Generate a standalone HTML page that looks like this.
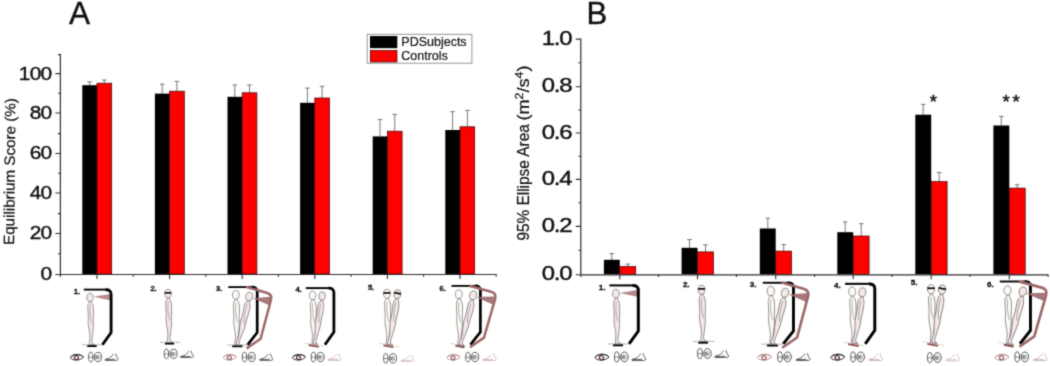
<!DOCTYPE html>
<html lang="en"><head><meta charset="utf-8"><title>Figure</title>
<style>
html,body{margin:0;padding:0;background:#fff;}
body{width:1050px;height:366px;overflow:hidden;font-family:"Liberation Sans", Arial, sans-serif;}
svg{display:block;font-family:"Liberation Sans", Arial, sans-serif;}
</style></head><body>
<svg width="1050" height="366" viewBox="0 0 1050 366">
<defs><filter id="soft" x="0" y="0" width="1050" height="366" filterUnits="userSpaceOnUse" color-interpolation-filters="sRGB"><feConvolveMatrix order="3" kernelMatrix="0.0256 0.1088 0.0256 0.1088 0.4624 0.1088 0.0256 0.1088 0.0256" divisor="1" edgeMode="duplicate" preserveAlpha="true"/></filter></defs>
<g filter="url(#soft)">
<rect width="1050" height="366" fill="#fff"/>
<path d="M89.7 85.2V81.9M87.4 81.9H92.0" stroke="#6a6a6a" stroke-width="0.9" fill="none"/>
<path d="M104.3 83.2V80.0M102.0 80.0H106.6" stroke="#6a6a6a" stroke-width="0.9" fill="none"/>
<rect x="82.3" y="85.2" width="14.7" height="188.8" fill="#000"/>
<rect x="97.0" y="83.2" width="14.7" height="190.8" fill="#ff0000" stroke="#3a0000" stroke-width="0.7"/>
<path d="M162.2 93.6V84.2M159.9 84.2H164.6" stroke="#6a6a6a" stroke-width="0.9" fill="none"/>
<path d="M176.9 91.2V81.4M174.6 81.4H179.2" stroke="#6a6a6a" stroke-width="0.9" fill="none"/>
<rect x="154.9" y="93.6" width="14.7" height="180.4" fill="#000"/>
<rect x="169.6" y="91.2" width="14.7" height="182.8" fill="#ff0000" stroke="#3a0000" stroke-width="0.7"/>
<path d="M234.8 96.8V85.0M232.5 85.0H237.2" stroke="#6a6a6a" stroke-width="0.9" fill="none"/>
<path d="M249.5 92.8V85.0M247.2 85.0H251.8" stroke="#6a6a6a" stroke-width="0.9" fill="none"/>
<rect x="227.5" y="96.8" width="14.7" height="177.2" fill="#000"/>
<rect x="242.2" y="92.8" width="14.7" height="181.2" fill="#ff0000" stroke="#3a0000" stroke-width="0.7"/>
<path d="M307.4 102.8V88.1M305.1 88.1H309.7" stroke="#6a6a6a" stroke-width="0.9" fill="none"/>
<path d="M322.1 98.0V86.3M319.8 86.3H324.4" stroke="#6a6a6a" stroke-width="0.9" fill="none"/>
<rect x="300.1" y="102.8" width="14.7" height="171.2" fill="#000"/>
<rect x="314.8" y="98.0" width="14.7" height="176.0" fill="#ff0000" stroke="#3a0000" stroke-width="0.7"/>
<path d="M380.0 136.4V119.5M377.7 119.5H382.3" stroke="#6a6a6a" stroke-width="0.9" fill="none"/>
<path d="M394.8 131.2V114.4M392.4 114.4H397.1" stroke="#6a6a6a" stroke-width="0.9" fill="none"/>
<rect x="372.7" y="136.4" width="14.7" height="137.6" fill="#000"/>
<rect x="387.4" y="131.2" width="14.7" height="142.8" fill="#ff0000" stroke="#3a0000" stroke-width="0.7"/>
<path d="M452.6 130.0V111.7M450.3 111.7H454.9" stroke="#6a6a6a" stroke-width="0.9" fill="none"/>
<path d="M467.4 126.8V110.4M465.1 110.4H469.7" stroke="#6a6a6a" stroke-width="0.9" fill="none"/>
<rect x="445.3" y="130.0" width="14.7" height="144.0" fill="#000"/>
<rect x="460.0" y="126.8" width="14.7" height="147.2" fill="#ff0000" stroke="#3a0000" stroke-width="0.7"/>
<path d="M60.4 54.1V276.8M60.4 274.5H496.5" stroke="#303030" stroke-width="1.2" fill="none"/>
<path d="M55.4 274.5H60.4M55.4 233.5H60.4M55.4 193.0H60.4M55.4 153.5H60.4M55.4 113.0H60.4M55.4 73.6H60.4M58.0 253.8H60.4M58.0 213.6H60.4M58.0 173.2H60.4M58.0 133.6H60.4M58.0 93.2H60.4M58.0 54.6H60.4M97.0 274.5v4.4M133.2 274.5v2.2M169.6 274.5v4.4M205.8 274.5v2.2M242.2 274.5v4.4M278.4 274.5v2.2M314.8 274.5v4.4M351.0 274.5v2.2M387.4 274.5v4.4M423.6 274.5v2.2M460.0 274.5v4.4M496.2 274.5v2.2" stroke="#303030" stroke-width="1.1" fill="none"/>
<text transform="translate(51.5 279.9) scale(1.1 1)" text-anchor="end" font-size="19.0" letter-spacing="-0.65" fill="#111" stroke="#111" stroke-width="0.4">0</text>
<text transform="translate(51.5 239.4) scale(1.1 1)" text-anchor="end" font-size="19.0" letter-spacing="-0.65" fill="#111" stroke="#111" stroke-width="0.4">20</text>
<text transform="translate(51.5 198.9) scale(1.1 1)" text-anchor="end" font-size="19.0" letter-spacing="-0.65" fill="#111" stroke="#111" stroke-width="0.4">40</text>
<text transform="translate(51.5 159.4) scale(1.1 1)" text-anchor="end" font-size="19.0" letter-spacing="-0.65" fill="#111" stroke="#111" stroke-width="0.4">60</text>
<text transform="translate(51.5 118.9) scale(1.1 1)" text-anchor="end" font-size="19.0" letter-spacing="-0.65" fill="#111" stroke="#111" stroke-width="0.4">80</text>
<text transform="translate(51.5 79.5) scale(1.1 1)" text-anchor="end" font-size="19.0" letter-spacing="-0.65" fill="#111" stroke="#111" stroke-width="0.4">100</text>
<text x="69.0" y="24.4" font-size="31.6" fill="#111" stroke="#111" stroke-width="0.4">A</text>
<text transform="translate(14.1 245.0) rotate(-89.45)" font-size="14.9" textLength="146.8" lengthAdjust="spacingAndGlyphs" fill="#111" stroke="#111" stroke-width="0.22">Equilibrium Score (%)</text>
<rect x="367.2" y="34.3" width="104.7" height="28.9" fill="#fff" stroke="#8a8a8a" stroke-width="0.9"/>
<rect x="370" y="36" width="27.3" height="12.2" fill="#000"/>
<rect x="370.3" y="50.4" width="26.7" height="11.6" fill="#ff0000" stroke="#3a0000" stroke-width="0.7"/>
<text x="401.3" y="45.7" font-size="12.5" fill="#111" stroke="#111" stroke-width="0.2">PDSubjects</text>
<text x="401.3" y="59.8" font-size="12.5" fill="#111" stroke="#111" stroke-width="0.2">Controls</text>
<path d="M611.8 259.8V253.6M609.5 253.6H614.1" stroke="#6a6a6a" stroke-width="0.9" fill="none"/>
<path d="M627.8 266.6V264.1M625.5 264.1H630.0" stroke="#6a6a6a" stroke-width="0.9" fill="none"/>
<rect x="603.9" y="259.8" width="15.9" height="14.5" fill="#000"/>
<rect x="619.8" y="266.6" width="15.9" height="7.7" fill="#ff0000" stroke="#3a0000" stroke-width="0.7"/>
<path d="M689.5 247.8V239.5M687.2 239.5H691.8" stroke="#6a6a6a" stroke-width="0.9" fill="none"/>
<path d="M705.5 251.9V244.8M703.2 244.8H707.8" stroke="#6a6a6a" stroke-width="0.9" fill="none"/>
<rect x="681.6" y="247.8" width="15.9" height="26.5" fill="#000"/>
<rect x="697.5" y="251.9" width="15.9" height="22.4" fill="#ff0000" stroke="#3a0000" stroke-width="0.7"/>
<path d="M767.8 228.5V218.2M765.5 218.2H770.0" stroke="#6a6a6a" stroke-width="0.9" fill="none"/>
<path d="M783.7 251.1V244.6M781.4 244.6H786.0" stroke="#6a6a6a" stroke-width="0.9" fill="none"/>
<rect x="759.8" y="228.5" width="15.9" height="45.8" fill="#000"/>
<rect x="775.7" y="251.1" width="15.9" height="23.2" fill="#ff0000" stroke="#3a0000" stroke-width="0.7"/>
<path d="M845.2 232.2V221.9M843.0 221.9H847.5" stroke="#6a6a6a" stroke-width="0.9" fill="none"/>
<path d="M861.2 236.0V223.7M858.9 223.7H863.5" stroke="#6a6a6a" stroke-width="0.9" fill="none"/>
<rect x="837.3" y="232.2" width="15.9" height="42.1" fill="#000"/>
<rect x="853.2" y="236.0" width="15.9" height="38.3" fill="#ff0000" stroke="#3a0000" stroke-width="0.7"/>
<path d="M923.2 114.7V104.4M921.0 104.4H925.5" stroke="#6a6a6a" stroke-width="0.9" fill="none"/>
<path d="M939.2 181.6V172.5M936.9 172.5H941.5" stroke="#6a6a6a" stroke-width="0.9" fill="none"/>
<rect x="915.3" y="114.7" width="15.9" height="159.6" fill="#000"/>
<rect x="931.2" y="181.6" width="15.9" height="92.7" fill="#ff0000" stroke="#3a0000" stroke-width="0.7"/>
<path d="M1001.3 125.5V116.4M999.0 116.4H1003.6" stroke="#6a6a6a" stroke-width="0.9" fill="none"/>
<path d="M1017.2 188.1V184.7M1015.0 184.7H1019.5" stroke="#6a6a6a" stroke-width="0.9" fill="none"/>
<rect x="993.4" y="125.5" width="15.9" height="148.8" fill="#000"/>
<rect x="1009.3" y="188.1" width="15.9" height="86.2" fill="#ff0000" stroke="#3a0000" stroke-width="0.7"/>
<path d="M580.8 38.6V277.1M580.8 274.8H1048.3" stroke="#303030" stroke-width="1.2" fill="none"/>
<path d="M575.8 274.8H580.8M575.8 226.4H580.8M575.8 179.4H580.8M575.8 133.0H580.8M575.8 86.7H580.8M575.8 39.1H580.8M578.4 250.2H580.8M578.4 202.8H580.8M578.4 156.3H580.8M578.4 110.0H580.8M578.4 62.8H580.8M619.8 274.8v4.4M658.6 274.8v2.2M697.5 274.8v4.4M736.4 274.8v2.2M775.7 274.8v4.4M814.6 274.8v2.2M853.2 274.8v4.4M892.1 274.8v2.2M931.2 274.8v4.4M970.1 274.8v2.2M1009.3 274.8v4.4M1048.1 274.8v2.2" stroke="#303030" stroke-width="1.1" fill="none"/>
<text transform="translate(571.4 280.0) scale(1.22 1)" text-anchor="end" font-size="19.6" letter-spacing="-0.95" fill="#111" stroke="#111" stroke-width="0.4">0.0</text>
<text transform="translate(571.4 232.1) scale(1.22 1)" text-anchor="end" font-size="19.6" letter-spacing="-0.95" fill="#111" stroke="#111" stroke-width="0.4">0.2</text>
<text transform="translate(571.4 185.1) scale(1.22 1)" text-anchor="end" font-size="19.6" letter-spacing="-0.95" fill="#111" stroke="#111" stroke-width="0.4">0.4</text>
<text transform="translate(571.4 138.7) scale(1.22 1)" text-anchor="end" font-size="19.6" letter-spacing="-0.95" fill="#111" stroke="#111" stroke-width="0.4">0.6</text>
<text transform="translate(571.4 92.4) scale(1.22 1)" text-anchor="end" font-size="19.6" letter-spacing="-0.95" fill="#111" stroke="#111" stroke-width="0.4">0.8</text>
<text transform="translate(571.4 44.8) scale(1.22 1)" text-anchor="end" font-size="19.6" letter-spacing="-0.95" fill="#111" stroke="#111" stroke-width="0.4">1.0</text>
<text x="586.4" y="23.9" font-size="31" fill="#111" stroke="#111" stroke-width="0.4">B</text>
<text transform="translate(528.6 240.6) rotate(-90)" font-size="16.4" textLength="116.4" lengthAdjust="spacingAndGlyphs" fill="#111" stroke="#111" stroke-width="0.22">95% Ellipse Area</text>
<text transform="translate(528.6 120.6) rotate(-90)" font-size="16.4" textLength="55.2" lengthAdjust="spacingAndGlyphs" fill="#111" stroke="#111" stroke-width="0.22">(m<tspan font-size="11.3" dy="-6">2</tspan><tspan dy="6">/s</tspan><tspan font-size="11.3" dy="-6">4</tspan><tspan dy="6">)</tspan></text>
<text x="933.3" y="107.6" font-size="18.5" text-anchor="middle" fill="#111" stroke="#111" stroke-width="0.5">*</text>
<text x="1012.4" y="107.6" font-size="18.5" text-anchor="middle" fill="#111" stroke="#111" stroke-width="0.5" letter-spacing="2.6">**</text>
<defs><g id="f1">
<text x="73.8" y="293.6" font-size="7.6" font-weight="bold" fill="#111" stroke="#111" stroke-width="0.3">1.</text>
<path d="M93.5 296.8L110.0 294.0L110.0 300.2Z" fill="#b07c7c" opacity="0.9"/>
<path d="M83.8 289.6H106.6" fill="none" stroke="#000" stroke-width="1.9"/>
<path d="M105.6 289.8Q111.1 289.4 111.1 294.4V332.6L102.4 344.8" fill="none" stroke="#000" stroke-width="2.8" stroke-linejoin="miter"/>
<g><path d="M82.0 344.8H102.0" stroke="#888" stroke-width="0.6"/><path d="M87.2 346.1H96.7" stroke="#000" stroke-width="1.8"/></g>
<g transform="translate(91.0 344.6) rotate(0.0) scale(1.000)" fill="#f4e9e7" stroke="#5c5555" stroke-width="0.55" stroke-linejoin="round">
<path transform="scale(1.1 1)" d="M-1.5 -43.6L-1.5 -41.9C-2.6 -41.3 -3.0 -40 -2.9 -37C-2.8 -33 -2.4 -29 -2.4 -26C-2.4 -24 -2.8 -22.5 -2.6 -20.5C-2.2 -17 -1.4 -13 -1.0 -9.5C-0.8 -7 -1.2 -5 -1.4 -2.5C-1.5 -1 -1.6 -0.4 -1.2 0L3.0 0C3.1 -0.6 1.9 -1 1.1 -1.7C0.7 -2.2 0.8 -3.5 1.0 -6C1.3 -9.5 1.9 -13 2.2 -17C2.4 -20 2.0 -22 2.1 -25C2.2 -28.5 2.5 -32 2.3 -35.5C2.2 -38.5 1.6 -40.7 0.5 -41.9L0.5 -43.6Z"/>
<path d="M-0.9 -39.8C-1.2 -35 -1.1 -30 -0.4 -26.5C0 -24.5 0.4 -22.5 0.8 -21" fill="none" stroke-width="0.4"/>
<ellipse cx="-1.0" cy="-47.2" rx="3.2" ry="4.1"/>
</g>
<g transform="translate(76.8 357.4)" fill="none" stroke="#222" stroke-width="0.9"><path d="M-6.7 0.3C-4 -3.5 3.4 -3.9 6.7 -0.3C3.4 3.5 -4 3.6 -6.7 0.3Z"/><path d="M-6.3 -0.3C-3.6 -3.6 3.2 -3.9 6.4 -0.6" stroke-width="0.9"/><circle cx="-0.4" cy="0.3" r="2.0" stroke="#552a2a" stroke-width="1.2" fill="#fbf3f3"/></g>
<g transform="translate(95.0 357.0)" fill="none" stroke="#262626" stroke-width="0.72"><ellipse cx="-4.2" cy="0" rx="2.2" ry="4.8"/><ellipse cx="3.0" cy="0" rx="3.5" ry="4.6"/><ellipse cx="2.9" cy="0.2" rx="1.6" ry="1.9" stroke-width="0.5"/><path d="M-6.2 0.2H-1.2M-0.8 -1.5L3.4 0.2L-0.8 1.8" stroke-width="0.5"/></g>
<path transform="translate(105.0 357.5)" d="M0.2 2C2.2 1.4 4.6 0.7 6.2 -0.7C7 -1.5 7.7 -2.4 8.3 -3.2M10.8 -3.5C10.9 -1.8 11.7 -0.5 12.8 0.8C13.5 1.7 12.9 2.8 11.6 2.8L0.7 3C-0.1 2.9 -0.3 2.3 0.2 2M1.6 1.9C4 2.2 7 2.1 9.4 1.7" fill="none" stroke="#333" stroke-width="0.75" stroke-linecap="round" stroke-linejoin="round"/>
</g>
<g id="f2">
<text x="150.4" y="290.9" font-size="7.6" font-weight="bold" fill="#111" stroke="#111" stroke-width="0.3">2.</text>
<g><path d="M160.0 342.3H180.4" stroke="#888" stroke-width="0.6"/><path d="M164.9 343.6H174.1" stroke="#000" stroke-width="1.8"/></g>
<g transform="translate(169.0 342.3) rotate(0.0) scale(1.030)" fill="#f4e9e7" stroke="#5c5555" stroke-width="0.55" stroke-linejoin="round">
<path transform="scale(1.1 1)" d="M-1.5 -43.6L-1.5 -41.9C-2.6 -41.3 -3.0 -40 -2.9 -37C-2.8 -33 -2.4 -29 -2.4 -26C-2.4 -24 -2.8 -22.5 -2.6 -20.5C-2.2 -17 -1.4 -13 -1.0 -9.5C-0.8 -7 -1.2 -5 -1.4 -2.5C-1.5 -1 -1.6 -0.4 -1.2 0L3.0 0C3.1 -0.6 1.9 -1 1.1 -1.7C0.7 -2.2 0.8 -3.5 1.0 -6C1.3 -9.5 1.9 -13 2.2 -17C2.4 -20 2.0 -22 2.1 -25C2.2 -28.5 2.5 -32 2.3 -35.5C2.2 -38.5 1.6 -40.7 0.5 -41.9L0.5 -43.6Z"/>
<path d="M-0.9 -39.8C-1.2 -35 -1.1 -30 -0.4 -26.5C0 -24.5 0.4 -22.5 0.8 -21" fill="none" stroke-width="0.4"/>
<ellipse cx="-1.0" cy="-47.2" rx="3.2" ry="4.1"/>
<path d="M-4.3 -48.0H2.2" stroke="#111" stroke-width="1.6" fill="none"/>
</g>
<g transform="translate(170.6 353.8)" fill="none" stroke="#262626" stroke-width="0.72"><ellipse cx="-4.2" cy="0" rx="2.2" ry="4.8"/><ellipse cx="3.0" cy="0" rx="3.5" ry="4.6"/><ellipse cx="2.9" cy="0.2" rx="1.6" ry="1.9" stroke-width="0.5"/><path d="M-6.2 0.2H-1.2M-0.8 -1.5L3.4 0.2L-0.8 1.8" stroke-width="0.5"/></g>
<path transform="translate(180.4 354.6)" d="M0.2 2C2.2 1.4 4.6 0.7 6.2 -0.7C7 -1.5 7.7 -2.4 8.3 -3.2M10.8 -3.5C10.9 -1.8 11.7 -0.5 12.8 0.8C13.5 1.7 12.9 2.8 11.6 2.8L0.7 3C-0.1 2.9 -0.3 2.3 0.2 2M1.6 1.9C4 2.2 7 2.1 9.4 1.7" fill="none" stroke="#333" stroke-width="0.75" stroke-linecap="round" stroke-linejoin="round"/>
</g>
<g id="f3">
<text x="216.0" y="291.0" font-size="7.6" font-weight="bold" fill="#111" stroke="#111" stroke-width="0.3">3.</text>
<path d="M228.3 287.1H252.7" fill="none" stroke="#000" stroke-width="1.8"/>
<path d="M251.7 287.2Q257.2 286.9 257.2 291.9V332.5L247.6 344.8" fill="none" stroke="#000" stroke-width="2.7" stroke-linejoin="miter"/>
<path d="M252.7 298.2L271.0 296.8L269.3 305.2Z" fill="#9e6868" opacity="0.9"/>
<path d="M245.9 286.9L266.6 292.8Q272.4 294.4 270.9 300.2L260.6 338.7L246.6 348.4" fill="none" stroke="#9e6868" stroke-width="2.5" stroke-linejoin="round"/>
<g><path d="M227.0 345.0H247.0" stroke="#888" stroke-width="0.6"/><path d="M232.2 346.3H242.5" stroke="#000" stroke-width="1.8"/></g>
<g transform="translate(236.6 344.7) rotate(0.3) scale(1.055)" fill="#fcfaf4" stroke="#5c5555" stroke-width="0.55" stroke-linejoin="round">
<path transform="scale(1.1 1)" d="M-1.5 -43.6L-1.5 -41.9C-2.6 -41.3 -3.0 -40 -2.9 -37C-2.8 -33 -2.4 -29 -2.4 -26C-2.4 -24 -2.8 -22.5 -2.6 -20.5C-2.2 -17 -1.4 -13 -1.0 -9.5C-0.8 -7 -1.2 -5 -1.4 -2.5C-1.5 -1 -1.6 -0.4 -1.2 0L3.0 0C3.1 -0.6 1.9 -1 1.1 -1.7C0.7 -2.2 0.8 -3.5 1.0 -6C1.3 -9.5 1.9 -13 2.2 -17C2.4 -20 2.0 -22 2.1 -25C2.2 -28.5 2.5 -32 2.3 -35.5C2.2 -38.5 1.6 -40.7 0.5 -41.9L0.5 -43.6Z"/>
<path d="M-0.9 -39.8C-1.2 -35 -1.1 -30 -0.4 -26.5C0 -24.5 0.4 -22.5 0.8 -21" fill="none" stroke-width="0.4"/>
<ellipse cx="-1.0" cy="-47.2" rx="3.2" ry="4.1"/>
</g>
<g transform="translate(237.4 344.7) rotate(15.0) scale(1.050)" fill="#f4e9e7" stroke="#5c5555" stroke-width="0.55" stroke-linejoin="round">
<path transform="scale(1.1 1)" d="M-1.5 -43.6L-1.5 -41.9C-2.6 -41.3 -3.0 -40 -2.9 -37C-2.8 -33 -2.4 -29 -2.4 -26C-2.4 -24 -2.8 -22.5 -2.6 -20.5C-2.2 -17 -1.4 -13 -1.0 -9.5C-0.8 -7 -1.2 -5 -1.4 -2.5C-1.5 -1 -1.6 -0.4 -1.2 0L3.0 0C3.1 -0.6 1.9 -1 1.1 -1.7C0.7 -2.2 0.8 -3.5 1.0 -6C1.3 -9.5 1.9 -13 2.2 -17C2.4 -20 2.0 -22 2.1 -25C2.2 -28.5 2.5 -32 2.3 -35.5C2.2 -38.5 1.6 -40.7 0.5 -41.9L0.5 -43.6Z"/>
<path d="M-0.9 -39.8C-1.2 -35 -1.1 -30 -0.4 -26.5C0 -24.5 0.4 -22.5 0.8 -21" fill="none" stroke-width="0.4"/>
<ellipse cx="-1.0" cy="-47.2" rx="3.2" ry="4.1"/>
</g>
<g transform="translate(229.8 357.4)" fill="none" stroke="#b98f8f" stroke-width="0.9"><path d="M-6.7 0.3C-4 -3.5 3.4 -3.9 6.7 -0.3C3.4 3.5 -4 3.6 -6.7 0.3Z"/><path d="M-6.3 -0.3C-3.6 -3.6 3.2 -3.9 6.4 -0.6" stroke-width="0.9"/><circle cx="-0.4" cy="0.3" r="2.0" stroke="#9a6262" stroke-width="1.2" fill="#fbf3f3"/></g>
<g transform="translate(248.7 357.0)" fill="none" stroke="#262626" stroke-width="0.72"><ellipse cx="-4.2" cy="0" rx="2.2" ry="4.8"/><ellipse cx="3.0" cy="0" rx="3.5" ry="4.6"/><ellipse cx="2.9" cy="0.2" rx="1.6" ry="1.9" stroke-width="0.5"/><path d="M-6.2 0.2H-1.2M-0.8 -1.5L3.4 0.2L-0.8 1.8" stroke-width="0.5"/></g>
<path transform="translate(259.7 357.5)" d="M0.2 2C2.2 1.4 4.6 0.7 6.2 -0.7C7 -1.5 7.7 -2.4 8.3 -3.2M10.8 -3.5C10.9 -1.8 11.7 -0.5 12.8 0.8C13.5 1.7 12.9 2.8 11.6 2.8L0.7 3C-0.1 2.9 -0.3 2.3 0.2 2M1.6 1.9C4 2.2 7 2.1 9.4 1.7" fill="none" stroke="#333" stroke-width="0.75" stroke-linecap="round" stroke-linejoin="round"/>
</g>
<g id="f4">
<text x="295.4" y="292.1" font-size="7.6" font-weight="bold" fill="#111" stroke="#111" stroke-width="0.3">4.</text>
<path d="M305.8 288.1H329.4" fill="none" stroke="#000" stroke-width="1.9"/>
<path d="M328.4 288.2Q333.9 287.9 333.9 292.9V332.0L324.9 344.8" fill="none" stroke="#000" stroke-width="2.8" stroke-linejoin="miter"/>
<g transform="rotate(10.0 313.9 344.6)"><path d="M304.5 344.6H323.5" stroke="#d9b9b9" stroke-width="0.6"/><path d="M308.8 345.9H319.0" stroke="#8e5050" stroke-width="1.8"/></g>
<g transform="translate(313.6 343.8) rotate(0.0) scale(1.025)" fill="#fcfaf4" stroke="#5c5555" stroke-width="0.55" stroke-linejoin="round">
<path transform="scale(1.1 1)" d="M-1.5 -43.6L-1.5 -41.9C-2.6 -41.3 -3.0 -40 -2.9 -37C-2.8 -33 -2.4 -29 -2.4 -26C-2.4 -24 -2.8 -22.5 -2.6 -20.5C-2.2 -17 -1.4 -13 -1.0 -9.5C-0.8 -7 -1.2 -5 -1.4 -2.5C-1.5 -1 -1.6 -0.4 -1.2 0L3.0 0C3.1 -0.6 1.9 -1 1.1 -1.7C0.7 -2.2 0.8 -3.5 1.0 -6C1.3 -9.5 1.9 -13 2.2 -17C2.4 -20 2.0 -22 2.1 -25C2.2 -28.5 2.5 -32 2.3 -35.5C2.2 -38.5 1.6 -40.7 0.5 -41.9L0.5 -43.6Z"/>
<path d="M-0.9 -39.8C-1.2 -35 -1.1 -30 -0.4 -26.5C0 -24.5 0.4 -22.5 0.8 -21" fill="none" stroke-width="0.4"/>
<ellipse cx="-1.0" cy="-47.2" rx="3.2" ry="4.1"/>
</g>
<g transform="translate(314.4 343.9) rotate(10.4) scale(1.027)" fill="#f4e9e7" stroke="#5c5555" stroke-width="0.55" stroke-linejoin="round">
<path transform="scale(1.1 1)" d="M-1.5 -43.6L-1.5 -41.9C-2.6 -41.3 -3.0 -40 -2.9 -37C-2.8 -33 -2.4 -29 -2.4 -26C-2.4 -24 -2.8 -22.5 -2.6 -20.5C-2.2 -17 -1.4 -13 -1.0 -9.5C-0.8 -7 -1.2 -5 -1.4 -2.5C-1.5 -1 -1.6 -0.4 -1.2 0L3.0 0C3.1 -0.6 1.9 -1 1.1 -1.7C0.7 -2.2 0.8 -3.5 1.0 -6C1.3 -9.5 1.9 -13 2.2 -17C2.4 -20 2.0 -22 2.1 -25C2.2 -28.5 2.5 -32 2.3 -35.5C2.2 -38.5 1.6 -40.7 0.5 -41.9L0.5 -43.6Z"/>
<path d="M-0.9 -39.8C-1.2 -35 -1.1 -30 -0.4 -26.5C0 -24.5 0.4 -22.5 0.8 -21" fill="none" stroke-width="0.4"/>
<ellipse cx="-1.0" cy="-47.2" rx="3.2" ry="4.1"/>
</g>
<g transform="translate(298.9 357.4)" fill="none" stroke="#222" stroke-width="0.9"><path d="M-6.7 0.3C-4 -3.5 3.4 -3.9 6.7 -0.3C3.4 3.5 -4 3.6 -6.7 0.3Z"/><path d="M-6.3 -0.3C-3.6 -3.6 3.2 -3.9 6.4 -0.6" stroke-width="0.9"/><circle cx="-0.4" cy="0.3" r="2.0" stroke="#552a2a" stroke-width="1.2" fill="#fbf3f3"/></g>
<g transform="translate(317.6 357.0)" fill="none" stroke="#262626" stroke-width="0.72"><ellipse cx="-4.2" cy="0" rx="2.2" ry="4.8"/><ellipse cx="3.0" cy="0" rx="3.5" ry="4.6"/><ellipse cx="2.9" cy="0.2" rx="1.6" ry="1.9" stroke-width="0.5"/><path d="M-6.2 0.2H-1.2M-0.8 -1.5L3.4 0.2L-0.8 1.8" stroke-width="0.5"/></g>
<path transform="translate(328.2 357.5)" d="M0.2 2C2.2 1.4 4.6 0.7 6.2 -0.7C7 -1.5 7.7 -2.4 8.3 -3.2M10.8 -3.5C10.9 -1.8 11.7 -0.5 12.8 0.8C13.5 1.7 12.9 2.8 11.6 2.8L0.7 3C-0.1 2.9 -0.3 2.3 0.2 2M1.6 1.9C4 2.2 7 2.1 9.4 1.7" fill="none" stroke="#c9a9a6" stroke-width="0.75" stroke-linecap="round" stroke-linejoin="round"/>
</g>
<g id="f5">
<text x="367.9" y="290.2" font-size="7.6" font-weight="bold" fill="#111" stroke="#111" stroke-width="0.3">5.</text>
<g transform="rotate(10.5 388.7 345.0)"><path d="M379.0 345.0H399.5" stroke="#d9b9b9" stroke-width="0.6"/><path d="M383.6 346.3H393.8" stroke="#8e5050" stroke-width="1.8"/></g>
<g transform="translate(388.0 344.3) rotate(0.0) scale(1.070)" fill="#fcfaf4" stroke="#5c5555" stroke-width="0.55" stroke-linejoin="round">
<path transform="scale(1.1 1)" d="M-1.5 -43.6L-1.5 -41.9C-2.6 -41.3 -3.0 -40 -2.9 -37C-2.8 -33 -2.4 -29 -2.4 -26C-2.4 -24 -2.8 -22.5 -2.6 -20.5C-2.2 -17 -1.4 -13 -1.0 -9.5C-0.8 -7 -1.2 -5 -1.4 -2.5C-1.5 -1 -1.6 -0.4 -1.2 0L3.0 0C3.1 -0.6 1.9 -1 1.1 -1.7C0.7 -2.2 0.8 -3.5 1.0 -6C1.3 -9.5 1.9 -13 2.2 -17C2.4 -20 2.0 -22 2.1 -25C2.2 -28.5 2.5 -32 2.3 -35.5C2.2 -38.5 1.6 -40.7 0.5 -41.9L0.5 -43.6Z"/>
<path d="M-0.9 -39.8C-1.2 -35 -1.1 -30 -0.4 -26.5C0 -24.5 0.4 -22.5 0.8 -21" fill="none" stroke-width="0.4"/>
<ellipse cx="-1.0" cy="-47.2" rx="3.2" ry="4.1"/>
<path d="M-4.3 -48.0H2.2" stroke="#111" stroke-width="1.6" fill="none"/>
</g>
<g transform="translate(388.9 344.4) rotate(10.8) scale(1.080)" fill="#f4e9e7" stroke="#5c5555" stroke-width="0.55" stroke-linejoin="round">
<path transform="scale(1.1 1)" d="M-1.5 -43.6L-1.5 -41.9C-2.6 -41.3 -3.0 -40 -2.9 -37C-2.8 -33 -2.4 -29 -2.4 -26C-2.4 -24 -2.8 -22.5 -2.6 -20.5C-2.2 -17 -1.4 -13 -1.0 -9.5C-0.8 -7 -1.2 -5 -1.4 -2.5C-1.5 -1 -1.6 -0.4 -1.2 0L3.0 0C3.1 -0.6 1.9 -1 1.1 -1.7C0.7 -2.2 0.8 -3.5 1.0 -6C1.3 -9.5 1.9 -13 2.2 -17C2.4 -20 2.0 -22 2.1 -25C2.2 -28.5 2.5 -32 2.3 -35.5C2.2 -38.5 1.6 -40.7 0.5 -41.9L0.5 -43.6Z"/>
<path d="M-0.9 -39.8C-1.2 -35 -1.1 -30 -0.4 -26.5C0 -24.5 0.4 -22.5 0.8 -21" fill="none" stroke-width="0.4"/>
<ellipse cx="-1.0" cy="-47.2" rx="3.2" ry="4.1"/>
<path d="M-4.3 -48.0H2.2" stroke="#111" stroke-width="1.6" fill="none"/>
</g>
<g transform="translate(390.0 358.3)" fill="none" stroke="#262626" stroke-width="0.72"><ellipse cx="-4.2" cy="0" rx="2.2" ry="4.8"/><ellipse cx="3.0" cy="0" rx="3.5" ry="4.6"/><ellipse cx="2.9" cy="0.2" rx="1.6" ry="1.9" stroke-width="0.5"/><path d="M-6.2 0.2H-1.2M-0.8 -1.5L3.4 0.2L-0.8 1.8" stroke-width="0.5"/></g>
<path transform="translate(400.8 358.6)" d="M0.2 2C2.2 1.4 4.6 0.7 6.2 -0.7C7 -1.5 7.7 -2.4 8.3 -3.2M10.8 -3.5C10.9 -1.8 11.7 -0.5 12.8 0.8C13.5 1.7 12.9 2.8 11.6 2.8L0.7 3C-0.1 2.9 -0.3 2.3 0.2 2M1.6 1.9C4 2.2 7 2.1 9.4 1.7" fill="none" stroke="#cdb5b3" stroke-width="0.75" stroke-linecap="round" stroke-linejoin="round"/>
</g>
<g id="f6">
<text x="439.5" y="291.0" font-size="7.6" font-weight="bold" fill="#111" stroke="#111" stroke-width="0.3">6.</text>
<path d="M451.5 285.9H475.9" fill="none" stroke="#000" stroke-width="1.8"/>
<path d="M474.9 286.0Q480.4 285.6 480.4 290.6V332.0L470.5 344.6" fill="none" stroke="#000" stroke-width="2.7" stroke-linejoin="miter"/>
<path d="M476.0 297.1L494.5 296.4L492.8 304.4Z" fill="#9e6868" opacity="0.9"/>
<path d="M469.3 285.8L491.0 291.7Q496.8 293.3 495.1 299.1L484.0 337.6L470.0 347.3" fill="none" stroke="#9e6868" stroke-width="2.5" stroke-linejoin="round"/>
<g transform="rotate(11.0 460.2 345.2)"><path d="M450.5 345.2H466.0" stroke="#d9b9b9" stroke-width="0.6"/><path d="M455.6 346.5H464.8" stroke="#7a4545" stroke-width="1.8"/></g>
<g transform="translate(459.6 344.6) rotate(0.3) scale(1.066)" fill="#fcfaf4" stroke="#5c5555" stroke-width="0.55" stroke-linejoin="round">
<path transform="scale(1.1 1)" d="M-1.5 -43.6L-1.5 -41.9C-2.6 -41.3 -3.0 -40 -2.9 -37C-2.8 -33 -2.4 -29 -2.4 -26C-2.4 -24 -2.8 -22.5 -2.6 -20.5C-2.2 -17 -1.4 -13 -1.0 -9.5C-0.8 -7 -1.2 -5 -1.4 -2.5C-1.5 -1 -1.6 -0.4 -1.2 0L3.0 0C3.1 -0.6 1.9 -1 1.1 -1.7C0.7 -2.2 0.8 -3.5 1.0 -6C1.3 -9.5 1.9 -13 2.2 -17C2.4 -20 2.0 -22 2.1 -25C2.2 -28.5 2.5 -32 2.3 -35.5C2.2 -38.5 1.6 -40.7 0.5 -41.9L0.5 -43.6Z"/>
<path d="M-0.9 -39.8C-1.2 -35 -1.1 -30 -0.4 -26.5C0 -24.5 0.4 -22.5 0.8 -21" fill="none" stroke-width="0.4"/>
<ellipse cx="-1.0" cy="-47.2" rx="3.2" ry="4.1"/>
</g>
<g transform="translate(460.6 344.8) rotate(15.4) scale(1.080)" fill="#f4e9e7" stroke="#5c5555" stroke-width="0.55" stroke-linejoin="round">
<path transform="scale(1.1 1)" d="M-1.5 -43.6L-1.5 -41.9C-2.6 -41.3 -3.0 -40 -2.9 -37C-2.8 -33 -2.4 -29 -2.4 -26C-2.4 -24 -2.8 -22.5 -2.6 -20.5C-2.2 -17 -1.4 -13 -1.0 -9.5C-0.8 -7 -1.2 -5 -1.4 -2.5C-1.5 -1 -1.6 -0.4 -1.2 0L3.0 0C3.1 -0.6 1.9 -1 1.1 -1.7C0.7 -2.2 0.8 -3.5 1.0 -6C1.3 -9.5 1.9 -13 2.2 -17C2.4 -20 2.0 -22 2.1 -25C2.2 -28.5 2.5 -32 2.3 -35.5C2.2 -38.5 1.6 -40.7 0.5 -41.9L0.5 -43.6Z"/>
<path d="M-0.9 -39.8C-1.2 -35 -1.1 -30 -0.4 -26.5C0 -24.5 0.4 -22.5 0.8 -21" fill="none" stroke-width="0.4"/>
<ellipse cx="-1.0" cy="-47.2" rx="3.2" ry="4.1"/>
</g>
<g transform="translate(453.5 357.5)" fill="none" stroke="#b98f8f" stroke-width="0.9"><path d="M-6.7 0.3C-4 -3.5 3.4 -3.9 6.7 -0.3C3.4 3.5 -4 3.6 -6.7 0.3Z"/><path d="M-6.3 -0.3C-3.6 -3.6 3.2 -3.9 6.4 -0.6" stroke-width="0.9"/><circle cx="-0.4" cy="0.3" r="2.0" stroke="#9a6262" stroke-width="1.2" fill="#fbf3f3"/></g>
<g transform="translate(472.1 357.0)" fill="none" stroke="#262626" stroke-width="0.72"><ellipse cx="-4.2" cy="0" rx="2.2" ry="4.8"/><ellipse cx="3.0" cy="0" rx="3.5" ry="4.6"/><ellipse cx="2.9" cy="0.2" rx="1.6" ry="1.9" stroke-width="0.5"/><path d="M-6.2 0.2H-1.2M-0.8 -1.5L3.4 0.2L-0.8 1.8" stroke-width="0.5"/></g>
<path transform="translate(483.0 357.6)" d="M0.2 2C2.2 1.4 4.6 0.7 6.2 -0.7C7 -1.5 7.7 -2.4 8.3 -3.2M10.8 -3.5C10.9 -1.8 11.7 -0.5 12.8 0.8C13.5 1.7 12.9 2.8 11.6 2.8L0.7 3C-0.1 2.9 -0.3 2.3 0.2 2M1.6 1.9C4 2.2 7 2.1 9.4 1.7" fill="none" stroke="#c9a9a6" stroke-width="0.75" stroke-linecap="round" stroke-linejoin="round"/>
</g></defs>
<use href="#f1"/>
<use href="#f2"/>
<use href="#f3"/>
<use href="#f4"/>
<use href="#f5"/>
<use href="#f6"/>
<use href="#f1" transform="translate(520.5 -21.7) scale(1.0605)"/>
<use href="#f2" transform="translate(523.4 -21.7) scale(1.0605)"/>
<use href="#f3" transform="translate(520.7 -21.7) scale(1.0605)"/>
<use href="#f4" transform="translate(520.7 -21.7) scale(1.0605)"/>
<use href="#f5" transform="translate(520.7 -22.4) scale(1.0605)"/>
<use href="#f6" transform="translate(521.0 -21.7) scale(1.0605)"/>
</g>
</svg>
</body></html>
